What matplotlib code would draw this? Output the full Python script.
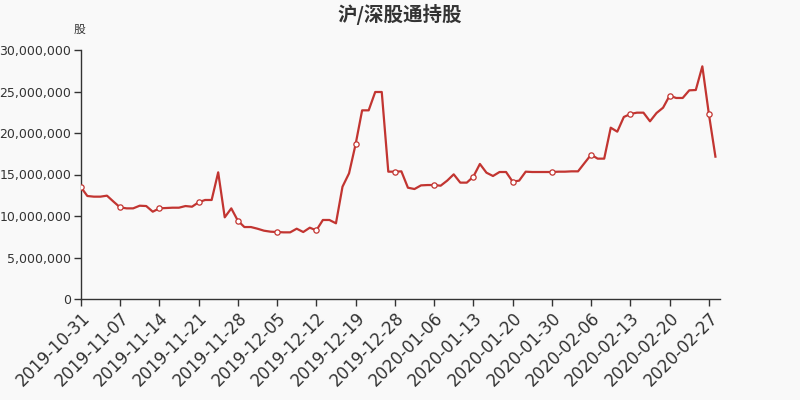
import matplotlib
matplotlib.use("Agg")
import matplotlib.pyplot as plt
from matplotlib.ticker import FuncFormatter, MultipleLocator

plt.rcParams['font.family'] = ['Noto Sans CJK SC', 'DejaVu Sans']

tick_labels = ["2019-10-31", "2019-11-07", "2019-11-14", "2019-11-21", "2019-11-28",
               "2019-12-05", "2019-12-12", "2019-12-19", "2019-12-28", "2020-01-06",
               "2020-01-13", "2020-01-20", "2020-01-30", "2020-02-06", "2020-02-13",
               "2020-02-20", "2020-02-27"]

# holdings in millions of shares
values_m = [13.49, 12.41, 12.33, 12.33, 12.45, 11.73, 11.04, 10.92, 10.92, 11.24,
            11.20, 10.52, 10.92, 10.96, 11.00, 11.00, 11.20, 11.12, 11.65, 11.93,
            11.93, 15.26, 9.84, 10.92, 9.44, 8.67, 8.67, 8.47, 8.23, 8.11,
            8.07, 8.03, 8.03, 8.47, 8.07, 8.59, 8.27, 9.52, 9.52, 9.12,
            13.53, 15.14, 18.63, 22.73, 22.73, 24.94, 24.94, 15.34, 15.34, 15.38,
            13.41, 13.25, 13.69, 13.73, 13.73, 13.65, 14.26, 15.02, 14.02, 14.02,
            14.74, 16.27, 15.22, 14.82, 15.30, 15.30, 14.14, 14.26, 15.34, 15.30,
            15.30, 15.30, 15.30, 15.34, 15.34, 15.38, 15.38, 16.39, 17.39, 16.91,
            16.91, 20.64, 20.16, 21.93, 22.29, 22.45, 22.45, 21.41, 22.41, 23.05,
            24.50, 24.22, 24.22, 25.14, 25.18, 28.03, 22.29, 17.15]
values = [v * 1e6 for v in values_m]

tick_step = 6
color = "#c23531"
bg = "#f9f9f9"

fig = plt.figure(figsize=(8, 4), dpi=100, facecolor=bg)
ax = fig.add_axes([0.101, 0.2525, 0.799, 0.6225])
ax.set_facecolor(bg)

x = list(range(len(values)))
ax.plot(x, values, color=color, lw=1.6, zorder=2)
mx = x[::tick_step]
my = values[::tick_step]
ax.plot(mx, my, ls='none', marker='o', markersize=3.8, markerfacecolor='white',
        markeredgecolor=color, markeredgewidth=0.9, zorder=3)

ax.set_xlim(0, 97.7)
ax.set_ylim(0, 30e6)
ax.yaxis.set_major_locator(MultipleLocator(5e6))
ax.yaxis.set_major_formatter(FuncFormatter(lambda v, p: f"{int(v):,}"))

ax.set_xticks(list(range(0, len(tick_labels) * tick_step, tick_step)))
ax.set_xticklabels(tick_labels, rotation=45, ha='right', rotation_mode='anchor',
                   fontsize=12, color='#333333', family='DejaVu Sans')
for lab in ax.get_yticklabels():
    lab.set_family('DejaVu Sans')
ax.tick_params(axis='y', labelsize=9, colors='#333333', length=5, width=1, pad=2)
ax.tick_params(axis='x', colors='#333333', length=5, width=1, pad=2)

for s in ['top', 'right']:
    ax.spines[s].set_visible(False)
for s in ['left', 'bottom']:
    ax.spines[s].set_color('#333333')
    ax.spines[s].set_linewidth(1)

fig.text(0.5, 0.965, "沪/深股通持股", ha='center', va='center', fontsize=14,
         fontweight='bold', color='#333333')
fig.text(0.099, 0.927, "股", ha='center', va='center', fontsize=8.5, color='#333333')

fig.savefig("out.png", dpi=100, facecolor=bg)
